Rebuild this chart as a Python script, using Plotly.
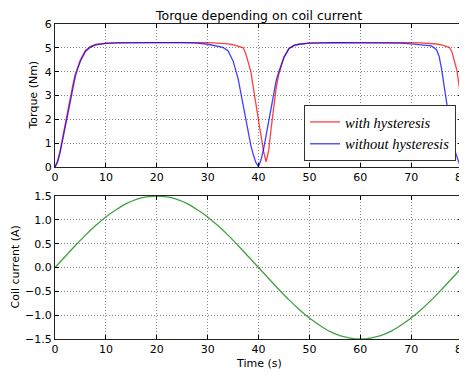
import plotly.graph_objects as go

# ---------------- data ----------------
t_without = [0, 0.5, 1, 1.5, 2, 2.5, 3, 3.5, 4, 4.5, 5, 6, 7, 8, 9, 10, 12, 15, 20, 25, 28,
             30, 31, 32, 33, 34, 35, 36, 36.5, 37, 37.5, 38, 38.5, 39, 39.5, 40,
             40.5, 41, 41.5, 42, 42.5, 43, 43.5, 44, 45, 46, 47, 48, 50, 55, 60, 65, 68,
             70, 71, 72, 73, 74, 75, 75.5, 76, 76.5, 77, 77.5, 78, 78.5, 79, 79.5, 80]
torque_without = [0.0, 0.2, 0.6, 1.15, 1.65, 2.2, 2.85, 3.35, 3.8, 4.15, 4.45, 4.85, 5.03, 5.12, 5.17, 5.19, 5.21, 5.22, 5.22, 5.22, 5.2,
                  5.15, 5.11, 5.08, 5.02, 4.88, 4.45, 3.7, 3.15, 2.55, 1.95, 1.4, 0.9, 0.5, 0.18, 0.02,
                  0.3, 0.75, 1.35, 2.0, 2.6, 3.2, 3.65, 4.0, 4.6, 4.97, 5.1, 5.15, 5.2, 5.22, 5.22, 5.22, 5.2,
                  5.17, 5.14, 5.12, 5.11, 5.08, 4.92, 4.65, 4.1, 3.35, 2.75, 1.85, 1.25, 0.75, 0.38, 0.12, 0.0]

t_with = [0, 0.5, 1, 1.5, 2, 2.5, 3, 3.5, 4, 4.5, 5, 6, 7, 8, 9, 10, 15, 20, 25, 30, 32, 33,
          34, 35, 36, 36.5, 37, 37.5, 38, 38.5, 39, 39.5, 40, 40.5, 41, 41.5, 42, 42.5, 43, 43.5,
          44, 44.5, 45, 46, 47, 48, 50, 55, 60, 65, 70, 72, 73, 74, 75, 76, 77, 77.5, 78, 78.5,
          79, 79.5, 80]
torque_with = [0.0, 0.25, 0.68, 1.25, 1.8, 2.35, 2.95, 3.45, 3.9, 4.22, 4.5, 4.9, 5.06, 5.14, 5.18, 5.2, 5.22, 5.23, 5.23, 5.22, 5.2, 5.19,
               5.17, 5.13, 5.08, 5.04, 5.0, 4.75, 4.4, 4.0, 3.3, 2.6, 2.0, 1.3, 0.65, 0.22, 0.7, 1.65, 2.6, 3.35,
               3.9, 4.25, 4.6, 4.97, 5.1, 5.16, 5.2, 5.22, 5.23, 5.23, 5.22, 5.21, 5.2, 5.19, 5.16, 5.12, 5.07, 5.02, 4.85, 4.5,
               4.05, 3.3, 2.25]

t_current = [0, 2, 4, 6, 8, 10, 12, 14, 16, 18, 20, 22, 24, 26, 28, 30, 32, 34, 36, 38, 40,
             42, 44, 46, 48, 50, 52, 54, 56, 58, 60, 62, 64, 66, 68, 70, 72, 74, 76, 78, 80]
current = [0.0, 0.23, 0.46, 0.68, 0.88, 1.06, 1.21, 1.34, 1.43, 1.48, 1.5, 1.48, 1.43, 1.34, 1.21, 1.06, 0.88, 0.68, 0.46, 0.23, 0.0,
           -0.23, -0.46, -0.68, -0.88, -1.06, -1.21, -1.34, -1.43, -1.48, -1.5, -1.48, -1.43, -1.34, -1.21, -1.06, -0.88, -0.68, -0.46, -0.23, 0.0]

x_ticks = [0, 10, 20, 30, 40, 50, 60, 70, 80]
torque_ticks = [0, 1, 2, 3, 4, 5, 6]
current_ticks = [-1.5, -1.0, -0.5, 0.0, 0.5, 1.0, 1.5]

# ---------------- figure ----------------
# the page body has an 8px margin; the figure is sized so it fills the window
OFF = 8
W, H = 467 - OFF, 372 - OFF
# plot area in window pixels: x 55..462, top 24, bottom 339
ml = 55 - OFF
mr = 467 - 462
mt = 24 - OFF
mb = 372 - 339
pw = W - ml - mr
ph = H - mt - mb

fig = go.Figure()
fig.add_trace(go.Scatter(x=t_with, y=torque_with, mode="lines", name="with hysteresis",
                         line=dict(color="rgba(255,0,0,0.75)", width=1.3),
                         xaxis="x", yaxis="y"))
fig.add_trace(go.Scatter(x=t_without, y=torque_without, mode="lines", name="without hysteresis",
                         line=dict(color="rgba(0,0,255,0.75)", width=1.3),
                         xaxis="x", yaxis="y"))
fig.add_trace(go.Scatter(x=t_current, y=current, mode="lines", showlegend=False,
                         line=dict(color="rgba(0,128,0,0.75)", width=1.3, shape="spline"),
                         xaxis="x2", yaxis="y2"))


def py(y):  # window y pixel -> paper coordinate
    return (372 - mb - y) / ph


def px(x):  # window x pixel -> paper coordinate
    return (x - 55) / pw


top_dom = [py(167), 1.0]
bot_dom = [0.0, py(196)]

axis_common = dict(showline=True, linecolor="#222222", linewidth=1, mirror="ticks",
                   ticks="inside", ticklen=4, tickcolor="black", showgrid=True,
                   gridcolor="#888888", griddash="1px,2px", gridwidth=1, zeroline=False,
                   automargin=False, ticklabeloverflow="allow",
                   tickfont=dict(family="DejaVu Sans", size=11, color="black"))


def label(text, x, y, angle=0, size=11):
    return dict(text=text, xref="paper", yref="paper",
                x=px(x), y=py(y), xanchor="center", yanchor="middle",
                textangle=angle, showarrow=False,
                font=dict(family="DejaVu Sans", size=size, color="black"))


fig.update_layout(
    width=W, height=H,
    margin=dict(l=ml, r=mr, t=mt, b=mb),
    paper_bgcolor="white", plot_bgcolor="white",
    xaxis=dict(domain=[0, 1], range=[0, 80], tickvals=x_ticks, anchor="y", **axis_common),
    yaxis=dict(domain=top_dom, range=[0, 6], tickvals=torque_ticks, anchor="x", **axis_common),
    xaxis2=dict(domain=[0, 1], range=[0, 80], tickvals=x_ticks, anchor="y2", **axis_common),
    yaxis2=dict(domain=bot_dom, range=[-1.5, 1.5], tickvals=current_ticks, tickformat=".1f",
                anchor="x2", **axis_common),
    legend=dict(x=px(456), y=py(161),
                xanchor="right", yanchor="bottom",
                bgcolor="white", bordercolor="#333333", borderwidth=1,
                font=dict(family="Liberation Serif", size=14.5, color="black", style="italic"),
                itemwidth=30, tracegroupgap=0),
    annotations=[
        label("Torque depending on coil current", 258.5, 15, size=12.5),
        label("Torque (Nm)", 33, 95.5, -90),
        label("Coil current (A)", 15, 267.5, -90),
        label("Time (s)", 258.5, 363),
    ],
    showlegend=True,
)

fig.write_html("out.html")
